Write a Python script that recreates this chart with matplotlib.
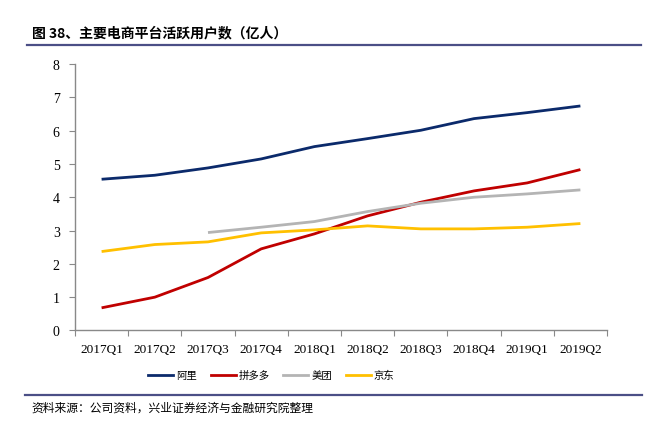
import matplotlib
matplotlib.use("Agg")
import matplotlib.pyplot as plt
from matplotlib.lines import Line2D

plt.rcParams['font.family'] = ['Noto Sans CJK SC', 'DejaVu Sans']

quarters = ["2017Q1", "2017Q2", "2017Q3", "2017Q4", "2018Q1",
            "2018Q2", "2018Q3", "2018Q4", "2019Q1", "2019Q2"]
ali = [4.54, 4.66, 4.88, 5.15, 5.52, 5.76, 6.01, 6.36, 6.54, 6.74]
pdd = [0.68, 1.00, 1.59, 2.45, 2.90, 3.44, 3.85, 4.19, 4.43, 4.83]
meituan = [None, None, 2.94, 3.10, 3.27, 3.57, 3.82, 4.00, 4.10, 4.22]
jd = [2.37, 2.58, 2.66, 2.93, 3.02, 3.14, 3.05, 3.05, 3.10, 3.21]
yticks = [0, 1, 2, 3, 4, 5, 6, 7, 8]

names = ["阿里", "拼多多", "美团", "京东"]
colors = ["#0b2a6b", "#c00000", "#b4b4b4", "#ffc000"]

fig = plt.figure(figsize=(6.51, 4.27), dpi=100)
ax = fig.add_axes([0.1152, 0.2237, 0.8172, 0.6241])

x = list(range(len(quarters)))
series = [ali, pdd, meituan, jd]
for s, c, n in zip(series, colors, names):
    xs = [xi for xi, v in zip(x, s) if v is not None]
    ys = [v for v in s if v is not None]
    ax.plot(xs, ys, color=c, lw=2.0, label=n, solid_capstyle='butt')

ax.set_xlim(-0.5, len(quarters) - 0.5)
ax.set_ylim(0, 8)
ax.set_yticks(yticks)
ax.set_yticklabels([str(v) for v in yticks], family='Liberation Serif', fontsize=10)

ax.set_xticks([i - 0.5 for i in range(len(quarters) + 1)])
ax.set_xticklabels([])
ax.set_xticks(x, minor=True)
ax.set_xticklabels(quarters, minor=True, family='Liberation Serif', fontsize=9.5)
ax.tick_params(axis='x', which='minor', length=0, pad=9)
ax.tick_params(axis='x', which='major', length=4, color='#898989', direction='out')
ax.tick_params(axis='y', length=4, color='#898989', direction='out', pad=7)

for sp in ['top', 'right']:
    ax.spines[sp].set_visible(False)
for sp in ['left', 'bottom']:
    ax.spines[sp].set_color('#898989')
    ax.spines[sp].set_linewidth(1.0)

handles = [Line2D([0], [0], color=c, lw=2.0) for c in colors]
fig.legend(handles, names, loc='center', bbox_to_anchor=(0.417, 0.119),
           ncol=4, frameon=False, fontsize=7.5, handlelength=2.4,
           columnspacing=1.3, handletextpad=0.3)

fig.text(0.049, 0.922, "图 38、主要电商平台活跃用户数（亿人）", fontsize=10,
         fontweight='bold', ha='left', va='center')
fig.add_artist(Line2D([0.041, 0.984], [0.892, 0.892], color='#4b4f86', lw=1.6,
                      transform=fig.transFigure))
fig.add_artist(Line2D([0.038, 0.986], [0.073, 0.073], color='#4b4f86', lw=1.6,
                      transform=fig.transFigure))
fig.text(0.049, 0.044, "资料来源：公司资料，兴业证券经济与金融研究院整理", fontsize=8.5,
         ha='left', va='center')

fig.savefig("out.png", dpi=100)
